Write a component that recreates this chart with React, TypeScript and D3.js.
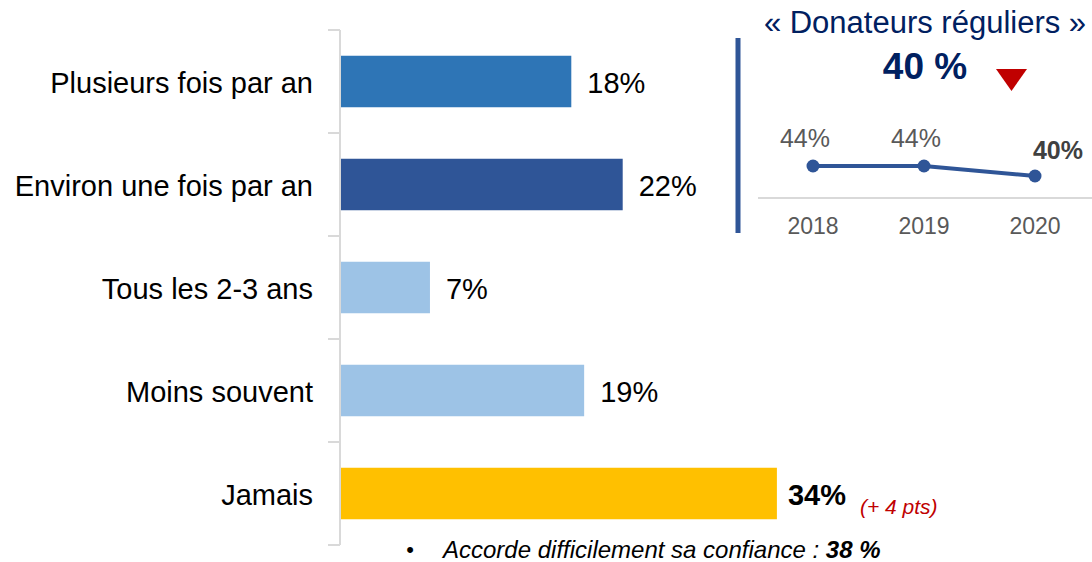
import React from 'react';
import * as d3 from 'd3';

const categories = ['Plusieurs fois par an', 'Environ une fois par an', 'Tous les 2-3 ans', 'Moins souvent', 'Jamais'];
const values = [18, 22, 7, 19, 34];
const barColors = ['#2e75b6', '#2f5597', '#9dc3e6', '#9dc3e6', '#ffc000'];

const years = ['2018', '2019', '2020'];
const regulars = [44, 44, 40];

const FONT = 'Liberation Sans, Arial, sans-serif';

const App = () => {
  const width = 1092;
  const height = 562;

  // barres
  const y = d3.scaleBand<string>()
    .domain(categories)
    .range([30, 545])
    .paddingInner(0.5)
    .paddingOuter(0.25);
  const x = d3.scaleLinear().domain([0, 40]).range([340, 340 + 514]);

  const tickYs = d3.range(categories.length + 1).map(i => 30 + i * y.step());

  // encart
  const xi = d3.scalePoint<string>().domain(years).range([813, 1035]);
  const yi = d3.scaleLinear().domain([40, 44]).range([176, 166]);
  const line = d3.line<number>()
    .x((d, i) => xi(years[i]) as number)
    .y(d => yi(d));

  const last = regulars.length - 1;

  return (
    <div style={{ position: 'fixed', left: 0, top: 0 }}>
      <svg width={width} height={height} style={{ display: 'block', background: '#fff' }} fontFamily={FONT}>
        {/* axe vertical */}
        <line x1={340} x2={340} y1={30} y2={545} stroke="#d9d9d9" strokeWidth={2} />
        {tickYs.map((t, i) => (
          <line key={i} x1={328} x2={340} y1={t} y2={t} stroke="#d9d9d9" strokeWidth={2} />
        ))}

        {categories.map((c, i) => {
          const by = y(c) as number;
          const cy = by + y.bandwidth() / 2;
          const isJamais = i === categories.length - 1;
          return (
            <g key={c}>
              <rect x={x(0) + 1} y={by} width={x(values[i]) - x(0) - 1} height={y.bandwidth()} fill={barColors[i]} />
              <text x={313} y={cy} dy="0.38em" textAnchor="end" fontSize={29} fill="#000">{c}</text>
              <text
                x={x(values[i]) + (isJamais ? 11 : 16)}
                y={cy}
                dy="0.38em"
                fontSize={29}
                fontWeight={isJamais ? 'bold' : 'normal'}
                fill="#000"
              >
                {values[i]}%
              </text>
            </g>
          );
        })}

        <text x={860} y={514} fontSize={21} fontStyle="italic" fill="#c00000">(+ 4 pts)</text>

        {/* note */}
        <text x={410} y={557} fontSize={22} fill="#000" textAnchor="middle">•</text>
        <text x={443} y={558} fontSize={24} fontStyle="italic" fill="#000">
          Accorde difficilement sa confiance : <tspan fontWeight="bold">38 %</tspan>
        </text>

        {/* encart donateurs réguliers */}
        <line x1={738} x2={738} y1={38} y2={233} stroke="#2f5597" strokeWidth={5} />
        <text x={925} y={33} textAnchor="middle" fontSize={31} fill="#002060">« Donateurs réguliers »</text>
        <text x={925} y={79} textAnchor="middle" fontSize={37} fontWeight="bold" fill="#002060">40 %</text>
        <path d="M996,69 L1027,69 L1011.5,91 Z" fill="#c00000" />

        <line x1={758} x2={1092} y1={198} y2={198} stroke="#d9d9d9" strokeWidth={2} />
        <path d={line(regulars) || ''} fill="none" stroke="#2f5597" strokeWidth={4} />
        {regulars.map((v, i) => (
          <g key={years[i]}>
            <circle cx={xi(years[i])} cy={yi(v)} r={6.5} fill="#2f5597" />
            <text
              x={(xi(years[i]) as number) + (i === last ? 23 : -8)}
              y={i === last ? 159 : 147}
              textAnchor="middle"
              fontSize={25}
              fontWeight={i === last ? 'bold' : 'normal'}
              fill={i === last ? '#404040' : '#595959'}
            >
              {v}%
            </text>
            <text x={xi(years[i])} y={234} textAnchor="middle" fontSize={23} fill="#595959">{years[i]}</text>
          </g>
        ))}
      </svg>
    </div>
  );
};

export default App;
